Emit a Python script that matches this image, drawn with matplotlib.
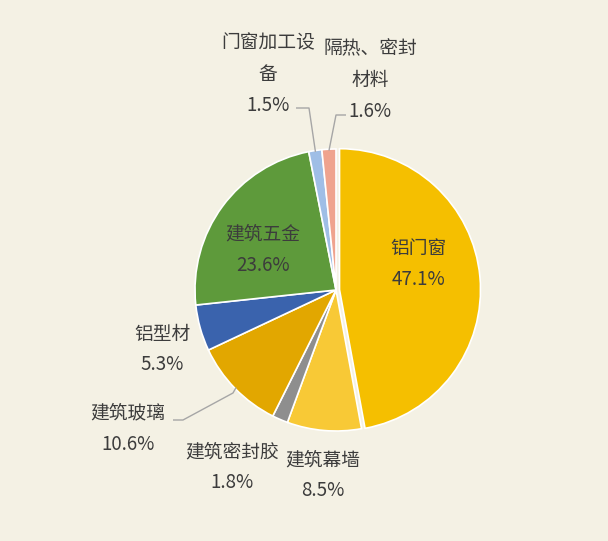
import numpy as np
import matplotlib
matplotlib.use("Agg")
import matplotlib.pyplot as plt

plt.rcParams['font.family'] = ['Noto Sans CJK SC', 'DejaVu Sans']

# slices, clockwise from 12 o'clock
categories = ['铝门窗', '建筑幕墙', '建筑密封胶', '建筑玻璃', '铝型材', '建筑五金', '门窗加工设备', '隔热、密封材料']
shares = [47.1, 8.5, 1.8, 10.6, 5.3, 23.6, 1.5, 1.6]
colors = ['#F5BF00', '#F8C936', '#8E8E8E', '#E2A700', '#3A63AD', '#5E9A3B', '#9FBEE6', '#EFA38E']

# category names as wrapped on the chart
label_lines = [['铝门窗'], ['建筑幕墙'], ['建筑密封胶'], ['建筑玻璃'], ['铝型材'], ['建筑五金'],
               ['门窗加工设', '备'], ['隔热、密封', '材料']]

W, H = 608, 541
CX, CY, R = 336, 290, 141   # pie centre / radius in pixels


def px(x, y):
    # pixel position (from top-left) -> data units of the pie
    return (x - CX) / R, (CY - y) / R


fig = plt.figure(figsize=(W / 100, H / 100), dpi=100)
fig.patch.set_facecolor('#F4F1E4')
ax = fig.add_axes([0, 0, 1, 1])
ax.set_facecolor('#F4F1E4')

explode = [0.025] + [0] * (len(shares) - 1)
wedges, _ = ax.pie(shares, colors=colors, startangle=90, counterclock=False,
                   explode=explode, radius=1,
                   wedgeprops=dict(edgecolor='white', linewidth=1.2))

ax.set_aspect('auto')
ax.set_xlim(-CX / R, (W - CX) / R)
ax.set_ylim(-(H - CY) / R, CY / R)
ax.axis('off')

txt = dict(ha='center', va='center', fontsize=13.5, color='#3C3C3C')

# label block: centre x and y of the first line (pixels); lines ~31 px apart
label_pos = {
    0: (418, 248),
    1: (323, 460),
    2: (232, 452),
    3: (128, 413),
    4: (162, 334),
    5: (263, 234),
    6: (268, 43),
    7: (370, 49),
}
step = 31
for i, (x0, y0) in label_pos.items():
    lines = label_lines[i] + [f'{shares[i]}%']
    for k, s in enumerate(lines):
        ax.text(*px(x0, y0 + k * step), s, **txt)


def edge_point(i, r=1.0):
    w = wedges[i]
    a = np.deg2rad((w.theta1 + w.theta2) / 2)
    cx, cy = w.center
    return cx + r * np.cos(a), cy + r * np.sin(a)


# leader lines for the small / outside labels
leaders = {
    3: [(233, 393), (183, 420), (173, 420)],
    6: [(309, 108), (296, 108)],
    7: [(336, 115), (346, 115)],
}
for i, pts in leaders.items():
    ex, ey = edge_point(i, 0.99)
    xs = [ex] + [px(*p)[0] for p in pts]
    ys = [ey] + [px(*p)[1] for p in pts]
    ax.plot(xs, ys, color='#A6A6A6', lw=1.0, solid_capstyle='butt')

fig.savefig('out.png', dpi=100, facecolor=fig.get_facecolor())
